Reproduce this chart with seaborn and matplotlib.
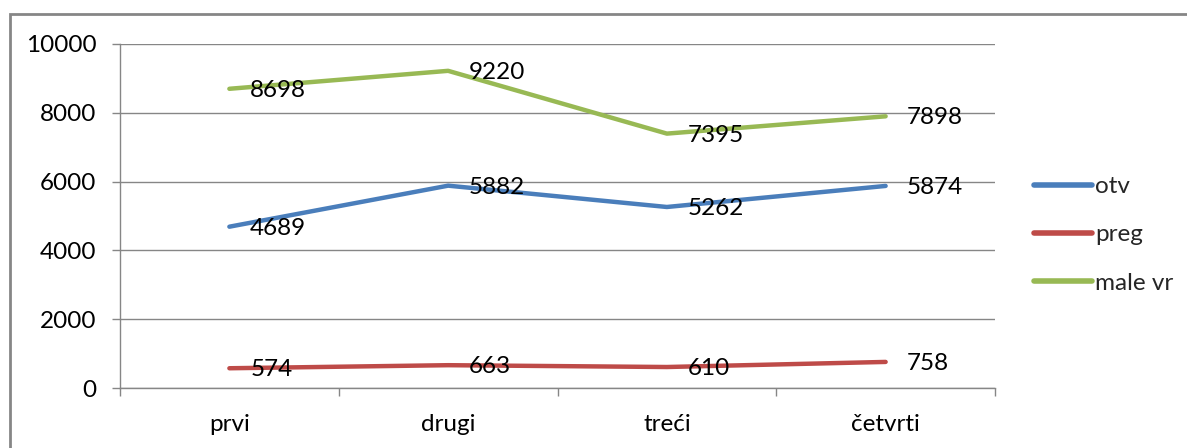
import matplotlib
matplotlib.use("Agg")
import matplotlib.pyplot as plt
from matplotlib.patches import Rectangle
from matplotlib.ticker import FixedLocator
import seaborn as sns
import pandas as pd

categories = ["prvi", "drugi", "treći", "četvrti"]
otv = [4689, 5882, 5262, 5874]
preg = [574, 663, 610, 758]
male_vr = [8698, 9220, 7395, 7898]
series_names = ["otv", "preg", "male vr"]
colors = ["#4A7EBB", "#BE4B48", "#98B954"]
y_ticks = [0, 2000, 4000, 6000, 8000, 10000]

sns.set_theme(style="white")
plt.rcParams["font.family"] = ["Lato", "DejaVu Sans"]

rows = []
for name, vals in zip(series_names, [otv, preg, male_vr]):
    for c, v in zip(categories, vals):
        rows.append({"cat": c, "value": v, "series": name})
df = pd.DataFrame(rows)

FS = 17.5

fig = plt.figure(figsize=(11.87, 4.48), dpi=100)
ax = fig.add_axes([120/1187, 60/448, 875/1187, 344/448])

sns.lineplot(data=df, x="cat", y="value", hue="series", hue_order=series_names,
             palette=colors, linewidth=3.2, ax=ax, sort=False, legend=True)

for name, vals, col in zip(series_names, [otv, preg, male_vr], colors):
    for i, v in enumerate(vals):
        ax.annotate(str(v), (i, v), xytext=(15, -1), textcoords="offset points",
                    ha="left", va="center", fontsize=FS, color="black")

ax.set_xlim(-0.5, len(categories) - 0.5)
ax.set_ylim(0, 10000)
ax.set_yticks(y_ticks)
ax.set_yticklabels([str(t) for t in y_ticks])
ax.set_xticks(range(len(categories)))
ax.set_xticklabels(categories)
ax.xaxis.set_minor_locator(FixedLocator([i - 0.5 for i in range(len(categories) + 1)]))
ax.set_xlabel("")
ax.set_ylabel("")

gray = "#868686"
ax.grid(axis="y", color=gray, linewidth=1)
ax.set_axisbelow(True)
for s in ["top", "right"]:
    ax.spines[s].set_visible(False)
for s in ["left", "bottom"]:
    ax.spines[s].set_color(gray)
    ax.spines[s].set_linewidth(1)

ax.tick_params(axis="y", which="major", length=6, width=1, color=gray, pad=11,
               labelsize=FS, left=True, labelcolor="black")
ax.tick_params(axis="x", which="major", length=0, pad=19, labelsize=FS, labelcolor="black")
ax.tick_params(axis="x", which="minor", length=6, width=1, color=gray, bottom=True)

leg = ax.legend(loc="center left", bbox_to_anchor=(1.044, 0.445), frameon=False,
                fontsize=FS, handlelength=2.4, handletextpad=0.15, labelspacing=1.12,
                borderaxespad=0, borderpad=0)
for line in leg.get_lines():
    line.set_linewidth(4)

fig.patches.append(Rectangle((10/1187, -0.2), 1.2, (448 - 14)/448 + 0.2,
                             transform=fig.transFigure, fill=False,
                             edgecolor=gray, linewidth=2, figure=fig))

fig.savefig("out.png", dpi=100)
